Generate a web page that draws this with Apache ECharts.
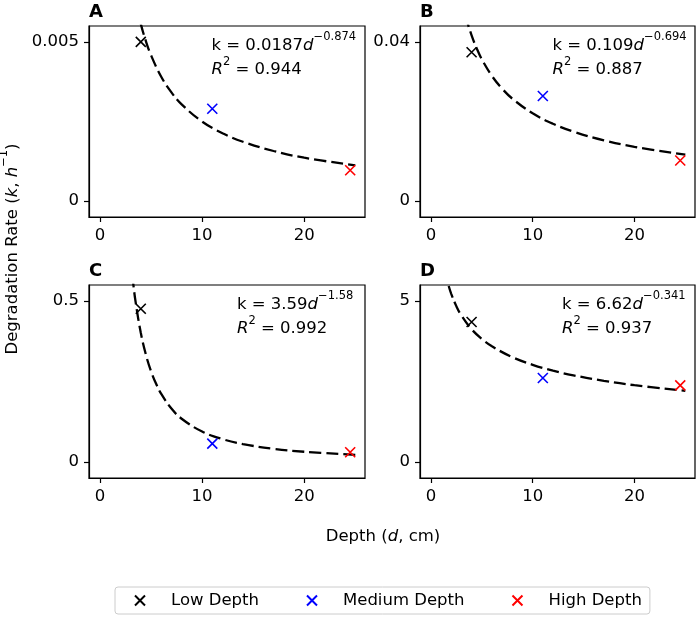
<!DOCTYPE html>
<html>
<head>
<meta charset="utf-8">
<script src="https://cdn.jsdelivr.net/npm/echarts@6/dist/echarts.min.js"></script>
<style>
html,body{margin:0;padding:0;background:#fff;}
#chart{width:697px;height:617px;}
</style>
</head>
<body>
<div id="chart"></div>
<script>
// ---- data ----
const panelLetters = ['A', 'B', 'C', 'D'];
const seriesNames = ['Low Depth', 'Medium Depth', 'High Depth'];
const seriesColors = ['#000000', '#0000ff', '#ff0000'];
const depths = [4, 11, 24.5];               // d, cm (Low, Medium, High)
const kA = [0.005, 0.0029, 0.00097];
const kB = [0.0374, 0.0264, 0.0102];
const kC = [0.476, 0.057, 0.03];
const kD = [4.35, 2.61, 2.38];

// fitted curves
const fitDA = [3, 3.5, 4, 4.5, 5, 6, 7, 8, 10, 12, 14, 17, 20, 25];
const fitKA = [0.007158, 0.006257, 0.005567, 0.005023, 0.004582, 0.003906, 0.003415, 0.003039, 0.002498, 0.002132, 0.001863, 0.001573, 0.001363, 0.001122];
const fitDB = [3, 3.5, 4, 4.5, 5, 6, 7, 8, 10, 12, 14, 17, 20, 25];
const fitKB = [0.05086, 0.04569, 0.04165, 0.03838, 0.03566, 0.03144, 0.02825, 0.02575, 0.02205, 0.01943, 0.01746, 0.01526, 0.01363, 0.01167];
const fitDC = [3, 3.25, 3.5, 4, 4.5, 5, 5.5, 6, 7, 8, 10, 12, 14, 17, 20, 25];
const fitKC = [0.6326, 0.5574, 0.4958, 0.4015, 0.3334, 0.2823, 0.2428, 0.2116, 0.1659, 0.1343, 0.0944, 0.0708, 0.0555, 0.0408, 0.0316, 0.0222];
const fitDD = [1.75, 2, 2.5, 3, 4, 5, 6, 8, 10, 12, 14, 17, 20, 25];
const fitKD = [5.470, 5.226, 4.843, 4.551, 4.126, 3.824, 3.593, 3.258, 3.019, 2.837, 2.692, 2.520, 2.384, 2.209];

// equations shown in each panel
const eqCoef = ['0.0187', '0.109', '3.59', '6.62'];
const eqExp = ['\u22120.874', '\u22120.694', '\u22121.58', '\u22120.341'];
const eqR2 = ['0.944', '0.887', '0.992', '0.937'];

// axes
const xTicks = [0, 10, 20];
const yTicksA = [0, 0.005];
const yTicksB = [0, 0.04];
const yTicksC = [0, 0.5];
const yTicksD = [0, 5];
const yRangeA = [-0.0005, 0.0055];
const yRangeB = [-0.004, 0.044];
const yRangeC = [-0.05, 0.55];
const yRangeD = [-0.5, 5.5];
const xRange = [-1.07, 25.95];

// ---- layout ----
const FONT = 'DejaVu Sans';
const FS = 16.5;
const grids = [
  {left: 89, top: 26, width: 276, height: 191},
  {left: 420, top: 26, width: 275, height: 191},
  {left: 89, top: 285, width: 276, height: 193},
  {left: 420, top: 285, width: 275, height: 193}
];
const kSets = [kA, kB, kC, kD];
const fitD = [fitDA, fitDB, fitDC, fitDD];
const fitK = [fitKA, fitKB, fitKC, fitKD];
const yTicks = [yTicksA, yTicksB, yTicksC, yTicksD];
const yRanges = [yRangeA, yRangeB, yRangeC, yRangeD];
const eqX = [211.5, 552.5, 237, 562];
const eqLine1Y = [54, 54, 313, 313];
const eqLine2Y = [78.5, 78.5, 337.5, 337.5];

const X_PATH = 'path://M0,0L10,10M10,0L0,10';

const lineStyleAx = {color: '#000', width: 1.2};
const tickStyle = {color: '#000', width: 1.2};
const labelBase = {color: '#000', fontSize: FS, fontFamily: FONT};

const xAxes = [], yAxes = [], series = [], graphics = [];
grids.forEach((g, i) => {
  xAxes.push({
    gridIndex: i, type: 'value', min: xRange[0], max: xRange[1], position: 'bottom',
    axisLine: {show: true, onZero: false, lineStyle: lineStyleAx}, splitLine: {show: false},
    axisTick: {show: true, inside: false, length: 5, lineStyle: tickStyle, customValues: xTicks},
    axisLabel: Object.assign({customValues: xTicks, margin: 10, formatter: v => String(v)}, labelBase)
  });
  yAxes.push({
    gridIndex: i, type: 'value', min: yRanges[i][0], max: yRanges[i][1], position: 'left',
    axisLine: {show: true, onZero: false, lineStyle: lineStyleAx}, splitLine: {show: false},
    axisTick: {show: true, inside: false, length: 5, lineStyle: tickStyle, customValues: yTicks[i]},
    axisLabel: Object.assign({customValues: yTicks[i], margin: 10, formatter: v => String(v)}, labelBase)
  });
  series.push({
    type: 'line', xAxisIndex: i, yAxisIndex: i, name: 'fit' + panelLetters[i],
    data: fitD[i].map((d, j) => [d, fitK[i][j]]),
    showSymbol: false, smooth: 0.4, clip: true,
    lineStyle: {color: '#000', width: 2.3, type: [12, 5]},
    z: 2, silent: true
  });
  seriesNames.forEach((nm, j) => {
    series.push({
      type: 'scatter', xAxisIndex: i, yAxisIndex: i, name: nm,
      data: [[depths[j], kSets[i][j]]],
      symbol: X_PATH, symbolSize: 10,
      itemStyle: {color: seriesColors[j], borderColor: seriesColors[j], borderWidth: 1.6, opacity: 1},
      z: 3
    });
  });
  graphics.push({
    type: 'text', left: g.left, top: g.top - 23,
    style: {text: panelLetters[i], font: 'bold 18px "DejaVu Sans"', fill: '#000'}
  });
  const richStyles = {
    m: {fontSize: FS, fontFamily: FONT, lineHeight: 18, verticalAlign: 'bottom', fill: '#000'},
    i: {fontSize: FS, fontFamily: FONT, fontStyle: 'italic', lineHeight: 18, verticalAlign: 'bottom', fill: '#000'},
    s: {fontSize: 11.5, fontFamily: FONT, lineHeight: 12, verticalAlign: 'bottom', padding: [0, 0, 10.5, 0], fill: '#000'}
  };
  graphics.push({
    type: 'text', x: eqX[i], y: eqLine1Y[i],
    style: {
      text: '{m|k = ' + eqCoef[i] + '}{i|d}{s|' + eqExp[i] + '}',
      rich: richStyles, align: 'left', verticalAlign: 'bottom'
    }
  });
  graphics.push({
    type: 'text', x: eqX[i], y: eqLine2Y[i],
    style: {
      text: '{i|R}{s|2}{m| = ' + eqR2[i] + '}',
      rich: richStyles, align: 'left', verticalAlign: 'bottom'
    }
  });
});

graphics.push({
  type: 'text', x: 383, y: 537,
  style: {
    text: '{m|Depth (}{i|d}{m|, cm)}',
    rich: {
      m: {fontSize: FS, fontFamily: FONT, fill: '#000'},
      i: {fontSize: FS, fontFamily: FONT, fontStyle: 'italic', fill: '#000'}
    },
    align: 'center', verticalAlign: 'middle'
  }
});
graphics.push({
  type: 'text', x: 12, y: 249, rotation: Math.PI / 2,
  style: {
    text: '{m|Degradation Rate (}{i|k}{m|, }{i|h}{s|\u22121}{m|)}',
    rich: {
      m: {fontSize: FS, fontFamily: FONT, lineHeight: 18, verticalAlign: 'bottom', fill: '#000'},
      i: {fontSize: FS, fontFamily: FONT, fontStyle: 'italic', lineHeight: 18, verticalAlign: 'bottom', fill: '#000'},
      s: {fontSize: 11.5, fontFamily: FONT, lineHeight: 12, verticalAlign: 'bottom', padding: [0, 0, 10.5, 0], fill: '#000'}
    },
    align: 'center', verticalAlign: 'middle'
  }
});

const chart = echarts.init(document.getElementById('chart'), null, {renderer: 'canvas'});
chart.setOption({
  animation: false,
  backgroundColor: '#fff',
  grid: grids.map(g => Object.assign({show: true, borderColor: '#000', borderWidth: 1.2, backgroundColor: 'transparent', containLabel: false}, g)),
  xAxis: xAxes,
  yAxis: yAxes,
  legend: {
    data: seriesNames,
    left: 115, top: 587,
    orient: 'horizontal',
    icon: X_PATH,
    itemWidth: 20, itemHeight: 10, itemGap: 47,
    padding: [5, 8, 5, 19],
    borderColor: '#cccccc', borderWidth: 1, borderRadius: 3,
    textStyle: {fontSize: FS, fontFamily: FONT, color: '#000', padding: [0, 0, 0, 16]},
    selectedMode: false
  },
  series: series,
  graphic: graphics
});
</script>
</body>
</html>
